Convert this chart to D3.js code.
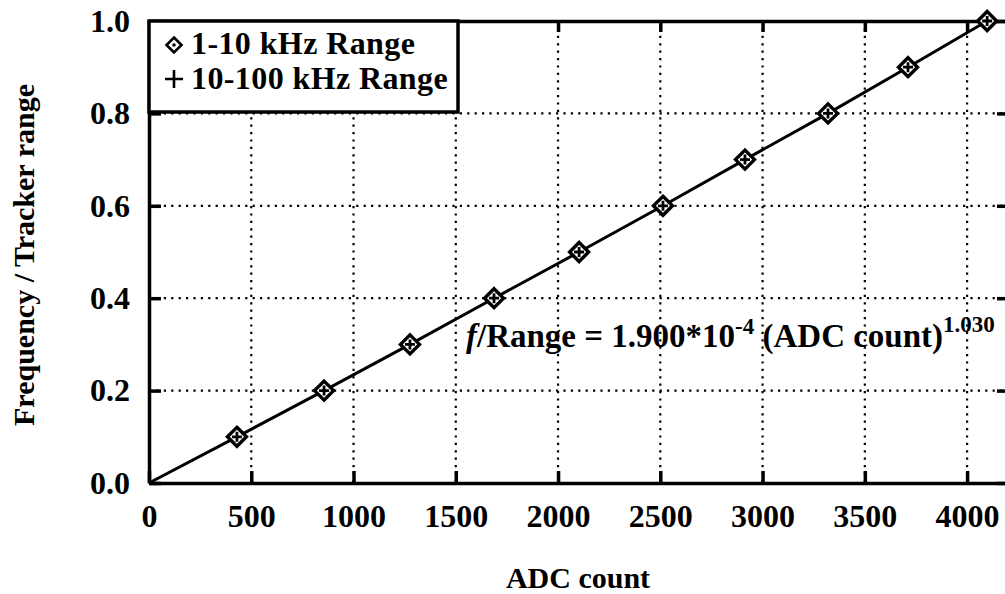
<!DOCTYPE html>
<html>
<head>
<meta charset="utf-8">
<script src="https://cdn.jsdelivr.net/npm/d3@7"></script>
<style>
  body { margin: 0; background: #fff; }
  svg text { font-family: "Liberation Serif", "DejaVu Serif", serif !important; font-weight: bold; fill: #000; }
</style>
</head>
<body>
<svg id="chart" width="1005" height="594"></svg>
<script>
////Data
const adcLow = [430, 856, 1276, 1687, 2103, 2513, 2914, 3320, 3711, 4098];   // 1-10 kHz range
const fLow = [0.1, 0.2, 0.3, 0.4, 0.5, 0.6, 0.7, 0.8, 0.9, 1.0];
const adcHigh = [430, 856, 1276, 1687, 2103, 2513, 2914, 3320, 3711, 4098];  // 10-100 kHz range
const fHigh = [0.1, 0.2, 0.3, 0.4, 0.5, 0.6, 0.7, 0.8, 0.9, 1.0];
const fitAdc = [0, 430, 856, 1276, 1687, 2103, 2513, 2914, 3320, 3711, 4098];
const fitF = [0, 0.1, 0.2, 0.3, 0.4, 0.5, 0.6, 0.7, 0.8, 0.9, 1.0];
const xTicks = [0, 500, 1000, 1500, 2000, 2500, 3000, 3500, 4000];
const yTicks = [0.0, 0.2, 0.4, 0.6, 0.8, 1.0];
const legendLabels = ['1-10 kHz Range', '10-100 kHz Range'];

////Layout
const plotLeft = 149, plotRight = 1008, plotTop = 21, plotBottom = 483;
const serif = '"Liberation Serif", "DejaVu Serif", serif';
const svg = d3.select('#chart');

const x = d3.scaleLinear().domain([0, 4200]).range([plotLeft, plotRight]);
const y = d3.scaleLinear().domain([0, 1]).range([plotBottom, plotTop]);

////Dotted grid
const grid = svg.append('g')
  .attr('stroke', '#000')
  .attr('stroke-width', 2.2)
  .attr('stroke-dasharray', '2.2,5.2');

grid.selectAll('line.v')
  .data(xTicks.filter(d => d > 0))
  .enter()
  .append('line')
  .attr('x1', d => x(d)).attr('x2', d => x(d))
  .attr('y1', plotTop).attr('y2', plotBottom);

grid.selectAll('line.h')
  .data(yTicks.filter(d => d > 0 && d < 1))
  .enter()
  .append('line')
  .attr('x1', plotLeft).attr('x2', plotRight)
  .attr('y1', d => y(d)).attr('y2', d => y(d));

////Axes, ticks pointing inward
const axisStyle = g => {
  g.attr('font-family', serif);
  g.select('.domain').attr('stroke-width', 3.5);
  g.selectAll('.tick line').attr('stroke-width', 3.5);
  g.selectAll('.tick text').style('font-size', '32px');
};

svg.append('g')
  .attr('id', 'x-axis')
  .attr('transform', `translate(0, ${plotBottom})`)
  .call(d3.axisBottom(x).tickValues(xTicks).tickSizeInner(-12).tickSizeOuter(0).tickPadding(32).tickFormat(d3.format('d')))
  .call(axisStyle)
  .call(g => g.selectAll('.tick text').attr('dy', '0.38em'));

svg.append('g')
  .attr('id', 'x-axis-top')
  .attr('transform', `translate(0, ${plotTop})`)
  .call(d3.axisTop(x).tickValues(xTicks.filter(d => d > 0)).tickSizeInner(-11).tickSizeOuter(0).tickFormat(''))
  .call(axisStyle);

svg.append('g')
  .attr('id', 'y-axis')
  .attr('transform', `translate(${plotLeft}, 0)`)
  .call(d3.axisLeft(y).tickValues(yTicks).tickSizeInner(-12).tickSizeOuter(0).tickPadding(19).tickFormat(d3.format('.1f')))
  .call(axisStyle);

svg.append('g')
  .attr('id', 'y-axis-right')
  .attr('transform', `translate(${plotRight}, 0)`)
  .call(d3.axisRight(y).tickValues(yTicks).tickSizeInner(-11).tickSizeOuter(0).tickFormat(''))
  .call(axisStyle);

svg.selectAll('.domain').attr('stroke', '#000');

////Fit line
const line = d3.line().x(d => x(d[0])).y(d => y(d[1]));
svg.append('path')
  .datum(fitAdc.map((a, i) => [a, fitF[i]]))
  .attr('d', line)
  .attr('fill', 'none')
  .attr('stroke', '#000')
  .attr('stroke-width', 3);

////Markers
const diamond = r => `M0,${-r}L${r},0L0,${r}L${-r},0Z`;
const plus = r => `M${-r},0H${r}M0,${-r}V${r}`;

svg.append('g').selectAll('path')
  .data(adcLow.map((a, i) => [a, fLow[i]]))
  .enter()
  .append('path')
  .attr('transform', d => `translate(${x(d[0])},${y(d[1])})`)
  .attr('d', diamond(9.5))
  .attr('fill', '#fff')
  .attr('stroke', '#000')
  .attr('stroke-width', 3.4);

svg.append('g').selectAll('path')
  .data(adcHigh.map((a, i) => [a, fHigh[i]]))
  .enter()
  .append('path')
  .attr('transform', d => `translate(${x(d[0])},${y(d[1])})`)
  .attr('d', plus(5))
  .attr('fill', 'none')
  .attr('stroke', '#000')
  .attr('stroke-width', 2.8);

////Legend
const legend = svg.append('g');
legend.append('rect')
  .attr('x', plotLeft).attr('y', plotTop)
  .attr('width', 309).attr('height', 91)
  .attr('fill', '#fff')
  .attr('stroke', '#000')
  .attr('stroke-width', 3.5);

legend.append('path')
  .attr('transform', 'translate(174,45)')
  .attr('d', diamond(7.5))
  .attr('fill', 'none').attr('stroke', '#000').attr('stroke-width', 2.6);
legend.append('circle')
  .attr('cx', 174).attr('cy', 45).attr('r', 1.8).attr('fill', '#000');
legend.append('path')
  .attr('transform', 'translate(174,79)')
  .attr('d', plus(9))
  .attr('fill', 'none').attr('stroke', '#000').attr('stroke-width', 2.6);

legend.selectAll('text')
  .data(legendLabels)
  .enter()
  .append('text')
  .attr('x', 191)
  .attr('y', (d, i) => 54 + i * 35)
  .style('font-size', '32px')
  .style('letter-spacing', '0.4px')
  .text(d => d);

////Equation
const eq = svg.append('text')
  .attr('x', 466).attr('y', 347)
  .style('font-size', '33px');
eq.append('tspan').style('font-style', 'italic').text('f');
eq.append('tspan').text('/Range = 1.900*10');
eq.append('tspan').attr('dy', -13).style('font-size', '23px').text('-4');
eq.append('tspan').attr('dy', 13).text(' (ADC count)');
eq.append('tspan').attr('dy', -15).style('font-size', '23px').text('1.030');

////Axis titles
svg.append('text')
  .attr('x', 578).attr('y', 588)
  .attr('text-anchor', 'middle')
  .style('font-size', '30px')
  .text('ADC count');

svg.append('text')
  .attr('transform', 'translate(34,255) rotate(-90)')
  .attr('text-anchor', 'middle')
  .style('font-size', '30px')
  .text('Frequency / Tracker range');
</script>
</body>
</html>
